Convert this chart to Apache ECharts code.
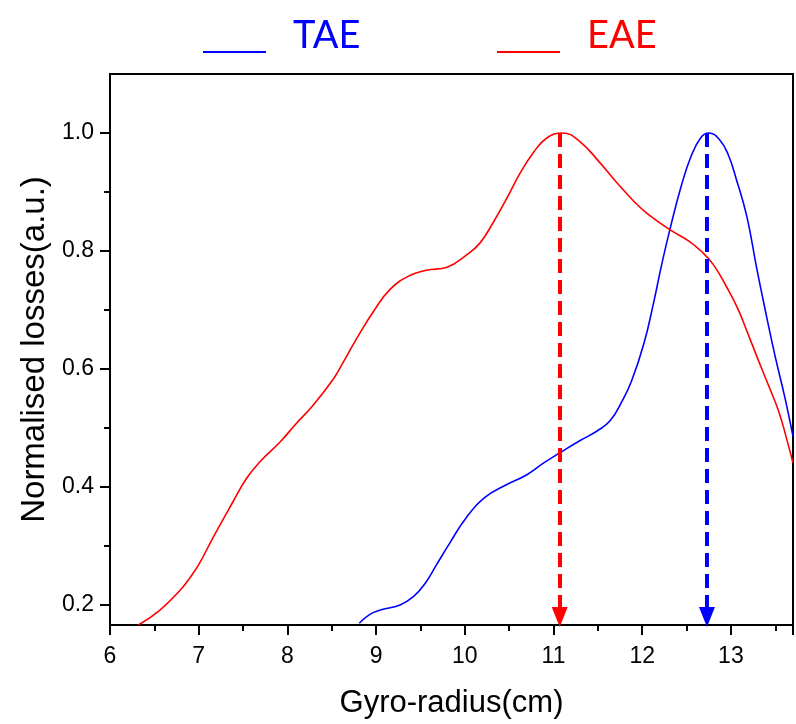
<!DOCTYPE html>
<html>
<head>
<meta charset="utf-8">
<script src="https://cdn.jsdelivr.net/npm/echarts@6/dist/echarts.min.js"></script>
<style>
  html, body { margin: 0; padding: 0; background: #fff; }
  #main { width: 796px; height: 724px; }
</style>
</head>
<body>
<div id="main"></div>
<script>
// gyro-radius (cm) / normalised losses
var taeX = [8.81, 8.93, 9.04, 9.27, 9.42, 9.55, 9.68, 9.83, 10.02, 10.23, 10.43, 10.70, 10.89, 11.07, 11.30, 11.50, 11.64, 11.77, 11.88, 12.02, 12.13, 12.22, 12.32, 12.44, 12.55, 12.66, 12.75, 12.87, 12.97, 13.06, 13.18, 13.29, 13.40, 13.50, 13.61, 13.70];
var taeY = [0.168, 0.183, 0.190, 0.199, 0.213, 0.235, 0.267, 0.304, 0.348, 0.382, 0.400, 0.420, 0.440, 0.457, 0.478, 0.495, 0.512, 0.544, 0.579, 0.643, 0.713, 0.777, 0.841, 0.910, 0.960, 0.992, 1.000, 0.989, 0.963, 0.922, 0.858, 0.771, 0.690, 0.620, 0.550, 0.485];

var eaeX = [6.32, 6.56, 6.79, 6.90, 7.01, 7.16, 7.39, 7.54, 7.69, 7.92, 8.10, 8.29, 8.52, 8.63, 8.78, 8.97, 9.16, 9.38, 9.57, 9.80, 10.02, 10.17, 10.32, 10.47, 10.62, 10.77, 10.92, 11.10, 11.30, 11.52, 11.70, 11.90, 12.05, 12.32, 12.53, 12.66, 12.80, 12.95, 13.08, 13.19, 13.31, 13.42, 13.54, 13.63, 13.70];
var eaeY = [0.165, 0.190, 0.224, 0.245, 0.270, 0.313, 0.375, 0.414, 0.442, 0.476, 0.507, 0.538, 0.583, 0.611, 0.651, 0.697, 0.735, 0.758, 0.767, 0.772, 0.793, 0.813, 0.848, 0.888, 0.931, 0.966, 0.991, 1.000, 0.985, 0.950, 0.918, 0.885, 0.864, 0.835, 0.816, 0.800, 0.777, 0.739, 0.701, 0.660, 0.614, 0.573, 0.527, 0.480, 0.440];

// peak positions marked by the dashed arrows
var taePeak = 12.73;
var eaePeak = 11.07;

var yMajor = [0.2, 0.4, 0.6, 0.8, 1.0];
var yMinor = [0.3, 0.5, 0.7, 0.9];

function pairs(xs, ys) {
    var out = [];
    for (var i = 0; i < xs.length; i++) out.push([xs[i], ys[i]]);
    return out;
}

var yMin = 0.165, yMax = 1.1;
var blue = '#0000ff', red = '#ff0000';

// legend mark: short line sitting low, like an underscore before the text
var legendIcon = 'path://M0,0 L0.05,0 L0.05,0.05 Z M0,32 L63,32 L63,34 L0,34 Z';

var myChart = echarts.init(document.getElementById('main'));

// arrow head is centred on the end point, so stop half a head above the axis
var arrowEnd = yMin + 0.0135;

function arrow(x, color) {
    return {
        silent: true,
        symbol: ['none', 'triangle'],
        symbolSize: [16, 20],
        label: { show: false },
        lineStyle: { color: color, width: 4, type: [14, 7] },
        data: [[{ coord: [x, 1.0] }, { coord: [x, arrowEnd] }]]
    };
}

var option = {
    animation: false,
    backgroundColor: '#fff',
    grid: {
        left: 110, right: 3, top: 74, bottom: 96,
        show: true, borderColor: '#000', borderWidth: 2
    },
    legend: [
        {
            left: 198, top: 12, itemGap: 0,
            icon: legendIcon, itemWidth: 63, itemHeight: 34,
            textStyle: { color: blue, fontSize: 38, fontFamily: 'Lato', padding: [0, 0, 0, 22] },
            data: ['TAE']
        },
        {
            left: 492, top: 12, itemGap: 0,
            icon: legendIcon, itemWidth: 63, itemHeight: 34,
            textStyle: { color: red, fontSize: 38, fontFamily: 'Lato', padding: [0, 0, 0, 22] },
            data: ['EAE']
        }
    ],
    xAxis: {
        type: 'value',
        min: 6, max: 13.7, interval: 1,
        name: 'Gyro-radius(cm)',
        nameLocation: 'middle', nameGap: 63,
        nameTextStyle: { fontSize: 31, color: '#000', fontFamily: 'Liberation Sans' },
        axisLine: { lineStyle: { color: '#000', width: 2 } },
        axisTick: { inside: false, length: 10, lineStyle: { color: '#000', width: 2 } },
        minorTick: { show: true, splitNumber: 2, length: 6, lineStyle: { color: '#000', width: 2 } },
        axisLabel: { fontSize: 23, color: '#000', margin: 20, fontFamily: 'Liberation Sans', showMaxLabel: false },
        splitLine: { show: false }
    },
    yAxis: [
        {
            type: 'value',
            min: yMin, max: yMax,
            name: 'Normalised losses(a.u.)',
            nameLocation: 'middle', nameGap: 56,
            nameTextStyle: { fontSize: 33, color: '#000', fontFamily: 'Liberation Sans' },
            axisLine: { show: true, lineStyle: { color: '#000', width: 2 } },
            axisTick: { show: true, inside: false, length: 10, customValues: yMajor, lineStyle: { color: '#000', width: 2 } },
            axisLabel: {
                fontSize: 23, color: '#000', margin: 16, fontFamily: 'Liberation Sans',
                customValues: yMajor,
                formatter: function (v) { return v.toFixed(1); }
            },
            splitLine: { show: false }
        },
        {
            type: 'value',
            min: yMin, max: yMax, position: 'left',
            axisLine: { show: false },
            axisTick: { show: true, inside: false, length: 6, customValues: yMinor, lineStyle: { color: '#000', width: 2 } },
            axisLabel: { show: false },
            splitLine: { show: false }
        }
    ],
    series: [
        {
            name: 'TAE', type: 'line', smooth: 0.45, showSymbol: false,
            color: blue, lineStyle: { width: 1.6 },
            data: pairs(taeX, taeY),
            markLine: arrow(taePeak, blue)
        },
        {
            name: 'EAE', type: 'line', smooth: 0.45, showSymbol: false,
            color: red, lineStyle: { width: 1.6 },
            data: pairs(eaeX, eaeY),
            markLine: arrow(eaePeak, red)
        }
    ]
};

myChart.setOption(option);
</script>
</body>
</html>
